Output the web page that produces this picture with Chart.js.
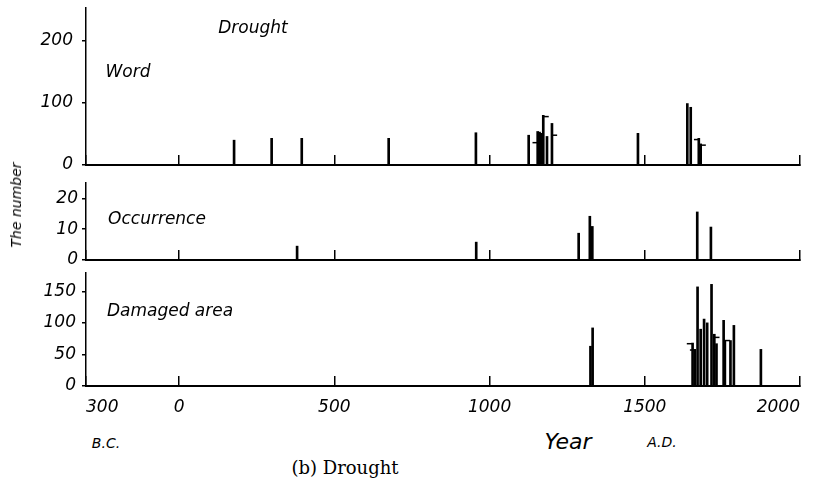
<!DOCTYPE html>
<html>
<head>
<meta charset="utf-8">
<script src="https://cdn.jsdelivr.net/npm/chart.js@4.4.1/dist/chart.umd.min.js"></script>
<style>
  body { margin: 0; width: 814px; height: 492px; background: #fff; position: relative; overflow: hidden; }
  canvas { position: absolute; left: 0; }
  .lbl { position: absolute; transform: translate(-50%, -50%); font-family: 'DejaVu Sans', sans-serif; font-style: italic; color: #000; white-space: nowrap; }
</style>
</head>
<body>
<canvas id="word-chart" width="814" height="175" style="top:0px"></canvas>
<canvas id="occurrence-chart" width="814" height="98" style="top:172px"></canvas>
<canvas id="damage-chart" width="814" height="160" style="top:266px"></canvas>

<div class="lbl" style="left:253px; top:27px; font-size:17px">Drought</div>
<div class="lbl" style="left:128px; top:71px; font-size:17px">Word</div>
<div class="lbl" style="left:157px; top:218px; font-size:17px">Occurrence</div>
<div class="lbl" style="left:170px; top:310px; font-size:17px">Damaged area</div>
<div class="lbl" style="left:16px; top:205px; font-size:14px; transform: translate(-50%, -50%) rotate(-90deg)">The number</div>
<div class="lbl" style="left:106px; top:443px; font-size:14px">B.C.</div>
<div class="lbl" style="left:568px; top:441px; font-size:22px">Year</div>
<div class="lbl" style="left:662px; top:442px; font-size:14px">A.D.</div>
<div class="lbl" style="left:345px; top:467px; font-size:18px; font-style:normal; font-family:'DejaVu Serif', serif">(b) Drought</div>

<script>
// shared x axis (years, negative = B.C.)
const xTicks = [-300, 0, 500, 1000, 1500, 2000];

// Word
const wordYears = [177, 298, 395, 675, 956, 1126, 1155, 1161, 1165, 1173, 1185, 1201, 1478, 1637, 1648, 1674, 1680];
const wordValues = [40, 43, 43, 43, 52, 48, 54, 53, 51, 80, 46, 67, 51, 99, 93, 43, 34];
const wordFlagYears = [1148, 1181, 1208, 1668, 1687];
const wordFlagValues = [36, 78, 48, 41, 32];
const wordTicks = [0, 100, 200];

// Occurrence
const occYears = [380, 957, 1287, 1323, 1331, 1669, 1713];
const occValues = [4.5, 5.8, 8.7, 14.2, 10.9, 15.6, 10.7];
const occTicks = [0, 10, 20];

// Damaged area
const damageYears = [1325, 1332, 1654, 1661, 1670, 1680, 1691, 1701, 1715, 1724, 1731, 1754, 1758, 1776, 1787, 1874];
const damageValues = [63, 92, 68, 58, 157, 90, 106, 100, 161, 82, 67, 104, 72, 72, 96, 58];
const damageFlagYears = [1645, 1655, 1731, 1765];
const damageFlagValues = [67, 57, 77, 72];
const damageTicks = [0, 50, 100, 150];

const tickFont = { family: 'DejaVu Sans', style: 'italic', size: 17 };

function makePanel(id, p) {
  const ctx = document.getElementById(id).getContext('2d');
  return new Chart(ctx, {
    type: 'bar',
    data: {
      datasets: [
        {
          data: p.years.map((x, i) => ({ x: x, y: p.values[i] })),
          backgroundColor: '#000',
          barThickness: 2
        },
        {
          type: 'scatter',
          data: p.flagYears.map((x, i) => ({ x: x, y: p.flagValues[i] })),
          pointStyle: 'line',
          radius: 3,
          borderColor: '#000',
          borderWidth: 1.5
        }
      ]
    },
    options: {
      responsive: false,
      animation: false,
      devicePixelRatio: 1,
      layout: { padding: { top: p.padTop, right: 14, left: 0, bottom: 0 } },
      plugins: { legend: { display: false }, tooltip: { enabled: false } },
      scales: {
        x: {
          type: 'linear',
          min: -300,
          max: 2000,
          offset: false,
          afterBuildTicks: s => { s.ticks = xTicks.map(v => ({ value: v })); },
          afterFit: s => { s.height = p.xHeight; s.paddingLeft = 0; s.paddingRight = 0; },
          grid: { offset: false, drawOnChartArea: false, drawTicks: true, tickLength: -10, color: '#000', lineWidth: 1.5 },
          border: { display: true, color: '#000', width: 2 },
          ticks: {
            display: p.showX,
            color: '#000',
            font: tickFont,
            padding: 21,
            align: 'inner',
            maxRotation: 0,
            autoSkip: false,
            callback: v => Math.abs(v)
          }
        },
        y: {
          min: 0,
          max: p.max,
          afterBuildTicks: s => { s.ticks = p.yTicks.map(v => ({ value: v })); },
          afterFit: s => { s.width = 86; s.paddingTop = 0; s.paddingBottom = 0; },
          grid: { drawOnChartArea: false, drawTicks: true, tickLength: 4, color: '#000', lineWidth: 1.5 },
          border: { display: true, color: '#000', width: 1.5 },
          ticks: { color: '#000', font: tickFont, padding: p.yPad }
        }
      }
    }
  });
}

makePanel('word-chart', {
  years: wordYears, values: wordValues,
  flagYears: wordFlagYears, flagValues: wordFlagValues,
  yTicks: wordTicks, max: 253, padTop: 8, xHeight: 10, showX: false, yPad: 9
});

makePanel('occurrence-chart', {
  years: occYears, values: occValues,
  flagYears: [], flagValues: [],
  yTicks: occTicks, max: 25, padTop: 11, xHeight: 10, showX: false, yPad: 4
});

makePanel('damage-chart', {
  years: damageYears, values: damageValues,
  flagYears: damageFlagYears, flagValues: damageFlagValues,
  yTicks: damageTicks, max: 179, padTop: 7, xHeight: 40, showX: true, yPad: 6
});
</script>
</body>
</html>
